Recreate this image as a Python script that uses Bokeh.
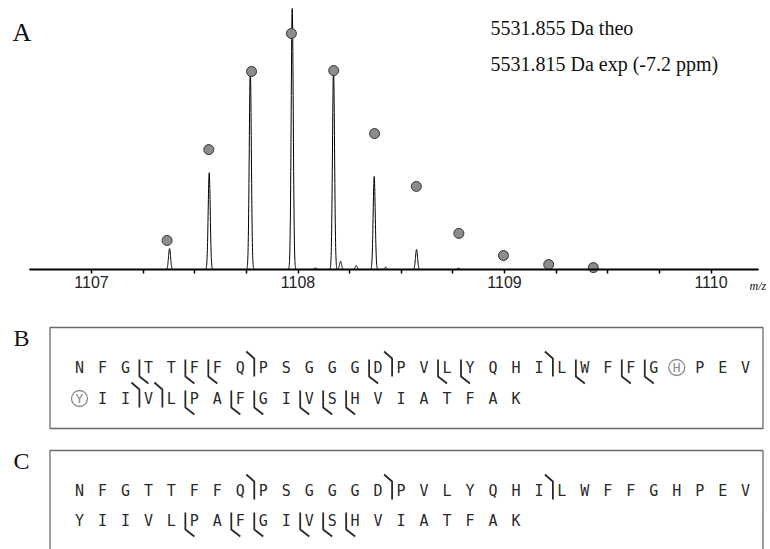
import numpy as np
from bokeh.plotting import figure
from bokeh.models import Range1d, FixedTicker, Label
from bokeh.layouts import column
from bokeh.embed import file_html
from bokeh.resources import INLINE
from bokeh.core.properties import value

# ---------------- Panel A data (isotopic cluster, z = 5) ----------------
peak_mz = [1107.378, 1107.570, 1107.769, 1107.972, 1108.085, 1108.172,
           1108.206, 1108.282, 1108.369, 1108.424, 1108.574, 1108.777]
peak_int = [8.9, 41.0, 85.0, 110.6, 0.7, 85.0, 3.5, 1.7, 39.4, 1.0, 8.5, 0.6]

theo_mz = [1107.366, 1107.568, 1107.775, 1107.968, 1108.173, 1108.371,
           1108.573, 1108.779, 1108.995, 1109.214, 1109.430]
theo_int = [12.3, 50.8, 83.9, 100.0, 84.3, 57.6, 35.2, 15.3, 5.9, 2.1, 0.8]

major_ticks = [1107, 1108, 1109, 1110]
minor_ticks = [1107.25, 1107.5, 1107.75, 1108.25, 1108.5, 1108.75,
               1109.25, 1109.5, 1109.75]
axis_extent = (1106.70, 1110.23)
mass_theo = "5531.855 Da theo"
mass_exp = "5531.815 Da exp (-7.2 ppm)"

# ---------------- Panels B / C data (sequence coverage) ----------------
sequence = "NFGTTFFQPSGGGDPVLYQHILWFFGHPEVYIIVLPAFGIVSHVIATFAK"
per_row = 30
# cleavage after residue r (1-based)
B_nterm_sites = [8, 14, 21, 33, 34]
B_cterm_sites = [3, 5, 6, 13, 16, 17, 22, 24, 25, 35, 37, 38, 40, 41, 42]
B_modified = [27, 31]
C_nterm_sites = [8, 14, 21]
C_cterm_sites = [35, 37, 38, 40, 41, 42]
C_modified = []

# ---------------- Panel A ----------------
A_W, A_H = 770, 299
px_per_mz, x_ref_px = 206.5, 91.0        # 1107 sits at 91 px
px_per_unit, base_px = 2.36, 269.0       # baseline at 269 px
x_start = 1107 - x_ref_px / px_per_mz
x_end = x_start + A_W / px_per_mz
y_end = base_px / px_per_unit
y_start = -(A_H - base_px) / px_per_unit

mz_grid = np.arange(axis_extent[0], axis_extent[1], 0.0005)
sigma = 0.005
profile = np.zeros_like(mz_grid)
for m, h in zip(peak_mz, peak_int):
    profile += h * np.exp(-0.5 * ((mz_grid - m) / sigma) ** 2)

pA = figure(width=A_W, height=A_H, x_range=Range1d(x_start, x_end),
            y_range=Range1d(y_start, y_end), output_backend="svg",
            toolbar_location=None, min_border=0, y_axis_location=None)
pA.xgrid.visible = False
pA.ygrid.visible = False
pA.outline_line_color = None

ax = pA.xaxis[0]
ax.fixed_location = 0
ax.bounds = axis_extent
ax.ticker = FixedTicker(ticks=major_ticks, minor_ticks=minor_ticks)
ax.axis_line_width = 2
ax.axis_line_color = "black"
ax.major_tick_in = 0
ax.major_tick_out = 4
ax.minor_tick_in = 0
ax.minor_tick_out = 4
ax.major_tick_line_width = 1.5
ax.minor_tick_line_width = 1.5
ax.major_tick_line_color = "black"
ax.minor_tick_line_color = "black"
ax.major_label_text_font = "Liberation Sans"
ax.major_label_text_font_size = "16px"
ax.major_label_text_color = "#222222"
ax.major_label_standoff = 2

pA.line(mz_grid, profile, line_color="black", line_width=1)
pA.scatter(theo_mz, theo_int, size=10, fill_color="#8c8c8c",
           line_color="#333333", line_width=1)


def lab(x, y, text, size, style="normal"):
    pA.add_layout(Label(x=x, y=A_H - y, x_units="screen", y_units="screen",
                        text=text, text_font="Liberation Serif",
                        text_font_size=size, text_font_style=style,
                        text_baseline="middle", text_color="#111111"))


lab(12, 32, "A", "26px")
lab(490, 27, mass_theo, "20px")
lab(490, 63, mass_exp, "20px")
lab(749, 285, "m/z", "12px", "italic")

# ---------------- Panels B and C ----------------
pB = figure(width=770, height=250, x_range=Range1d(0, 770), y_range=Range1d(549, 299),
            output_backend="svg", toolbar_location=None, min_border=0,
            x_axis_location=None, y_axis_location=None)
pB.xgrid.visible = False
pB.ygrid.visible = False
pB.outline_line_color = None

x0, step = 79.0, 22.97
panels = [
    dict(label="B", label_y=337, box=(49.5, 762.5, 327, 428), rows=(367, 398),
         nterm=B_nterm_sites, cterm=B_cterm_sites, mod=B_modified),
    dict(label="C", label_y=460, box=(49.5, 762.5, 450, 600), rows=(490, 520),
         nterm=C_nterm_sites, cterm=C_cterm_sites, mod=C_modified),
]

for pn in panels:
    l, r, t, b = pn["box"]
    pB.quad(left=[l], right=[r], top=[t], bottom=[b], fill_color=None,
            line_color="#6a6a6a", line_width=1.3)
    pB.text(x=[13], y=[pn["label_y"]], text=[pn["label"]], text_align="left",
            text_baseline="middle", text_font=value("Liberation Serif"),
            text_font_size="24px", text_color="#111111")

    xs, ys, tx = [], [], []
    mx, my, mt = [], [], []
    for i, aa in enumerate(sequence):
        row, col = divmod(i, per_row)
        xx = x0 + col * step
        yy = pn["rows"][row]
        if (i + 1) in pn["mod"]:
            mx.append(xx); my.append(yy); mt.append(aa)
        else:
            xs.append(xx); ys.append(yy); tx.append(aa)
    pB.text(x=xs, y=ys, text=tx, text_align="center", text_baseline="middle",
            text_font=value("DejaVu Sans Mono"), text_font_size="15px",
            text_color="#2a2a2a")
    if mt:
        pB.scatter(mx, my, size=16, fill_color=None, line_color="#8a8a8a",
                   line_width=1.3)
        pB.text(x=mx, y=my, text=mt, text_align="center", text_baseline="middle",
                text_font=value("DejaVu Sans Mono"), text_font_size="13px",
                text_color="#8a8a8a")

    lx, ly = [], []
    for site in pn["nterm"]:
        row, col = divmod(site - 1, per_row)
        xb = x0 + (col + 0.5) * step + 2.5
        yy = pn["rows"][row]
        lx.append([xb - 8, xb, xb]); ly.append([yy - 16, yy - 9, yy + 9])
    for site in pn["cterm"]:
        row, col = divmod(site - 1, per_row)
        xb = x0 + (col + 0.5) * step + 2.5
        yy = pn["rows"][row]
        lx.append([xb, xb, xb + 9]); ly.append([yy - 8, yy + 9, yy + 16])
    pB.multi_line(lx, ly, line_color="#2a2a2a", line_width=1.8)

layout = column(pA, pB, spacing=0)
open("out.html", "w").write(file_html(layout, INLINE))
